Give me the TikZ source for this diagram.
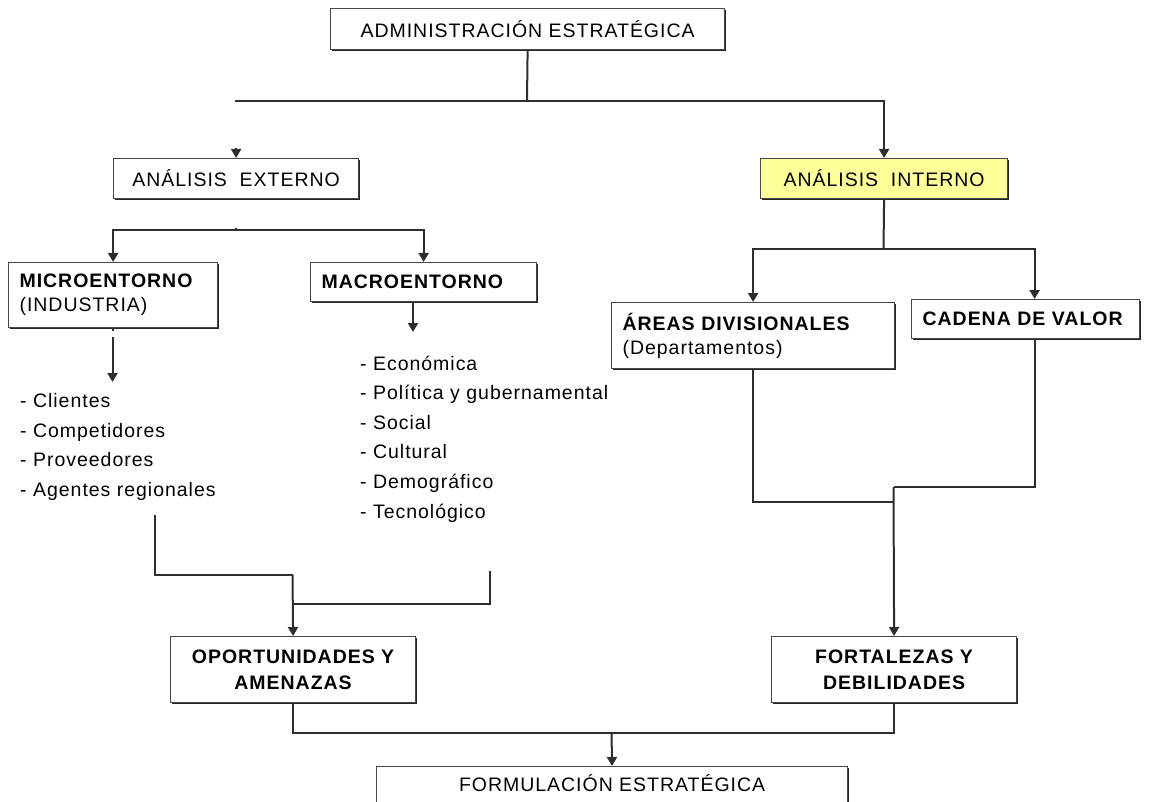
\documentclass[tikz,border=0pt]{standalone}
\usepackage{fontspec}
\setmainfont{Liberation Sans}[LetterSpace=5]
\usetikzlibrary{arrows.meta,shadows}
\definecolor{paleyellow}{RGB}{255,255,153}

\begin{document}
\begin{tikzpicture}[x=1pt,y=-1pt,
  conn/.style={draw=black!82, line width=2pt},
  arr/.style={conn, -{Triangle[width=10pt,length=9pt]}},
  box/.style={draw=black!72, line width=1.2pt, fill=white,
    drop shadow={shadow xshift=1.5pt, shadow yshift=-1.5pt, opacity=1, fill=black!85},
    inner sep=0pt, anchor=north west, font=\fontsize{19.5}{24}\selectfont},
  lbox/.style={box, align=left, inner xsep=11pt},
  cbox/.style={box, align=center},
  list/.style={anchor=west, align=left, inner sep=0pt, font=\fontsize{19.5}{29.6}\selectfont},
]
\clip (0,0) rectangle (1161,802);
\fill[white] (0,0) rectangle (1161,802);

% boxes
\node[cbox, minimum width=394, minimum height=41] (admin) at (330,8) {ADMINISTRACIÓN ESTRATÉGICA};
\node[cbox, minimum width=245, minimum height=40] (ext) at (113,158) {ANÁLISIS~~EXTERNO};
\node[cbox, minimum width=247, minimum height=40, fill=paleyellow] (int) at (760,158) {ANÁLISIS~~INTERNO};

\node[lbox, text width=187, minimum height=65] (micro) at (8,262) {\textbf{MICROENTORNO}\\(INDUSTRIA)};
\node[lbox, text width=204, minimum height=39] (macro) at (310,262) {\textbf{MACROENTORNO}};
\node[lbox, text width=261, minimum height=66] (areas) at (611,302) {\textbf{ÁREAS DIVISIONALES}\\(Departamentos)};
\node[lbox, text width=206, minimum height=39] (cadena) at (911,299) {\textbf{CADENA DE VALOR}};

\node[cbox, minimum width=245, minimum height=66, font=\fontsize{19.5}{26}\selectfont\bfseries] (oport) at (170,636) {OPORTUNIDADES Y\\AMENAZAS};
\node[cbox, minimum width=245, minimum height=66, font=\fontsize{19.5}{26}\selectfont\bfseries] (fort) at (771,636) {FORTALEZAS Y\\DEBILIDADES};
\node[cbox, minimum width=471, minimum height=60] (form) at (376,766) {FORMULACIÓN ESTRATÉGICA\\[4pt]\phantom{X}};

% lists
\node[list] (lmicro) at (20,447) {- Clientes\\- Competidores\\- Proveedores\\- Agentes regionales};
\node[list] (lmacro) at (360,439) {- Económica\\- Política y gubernamental\\- Social\\- Cultural\\- Demográfico\\- Tecnológico};

% junction points
\coordinate (jA) at (527,101);
\coordinate (jAl) at (235,101);
\coordinate (extIn) at ([yshift=10pt]ext.north);
\coordinate (jB) at (235.5,230);
\coordinate (microOut) at (112.5,337);
\coordinate (microList) at (112.5,382);
\coordinate (macroList) at (413,332);
\coordinate (jC) at (883.5,249);
\coordinate (cadIn) at ([xshift=9pt]cadena.north);
\coordinate (cadOut) at ([xshift=9pt]cadena.south);
\coordinate (jD) at (893.5,487);
\coordinate (jE) at (893.5,502);
\coordinate (lmicroEnd) at (155,515);
\coordinate (lmacroEnd) at (490,571);
\coordinate (jF) at (292.5,575);
\coordinate (jG) at (292.5,604);
\coordinate (jH) at (611.5,733);

% connectors: top level
\draw[conn] (admin.south) -- (jA);
\draw[arr] (jAl) -- (jA) -| (int.north);
\draw[arr] (extIn) -- (ext.north);

% external analysis
\draw[conn] (jB) -- ++(0,-2);
\draw[arr] (jB) -| (micro.north);
\draw[arr] (jB) -| (macro.north);
\draw[arr] (microOut) -- (microList);
\draw[conn] (micro.south) -- ++(0,3);
\draw[arr] (macro.south -| macroList) -- (macroList);
\draw[conn] (lmicroEnd) |- (jF);
\draw[arr] (jF) -- (oport.north);
\draw[conn] (lmacroEnd) |- (jG);

% internal analysis
\draw[conn] (int.south) -- (jC);
\draw[arr] (jC) -| (areas.north);
\draw[arr] (jC) -| (cadIn);
\draw[conn] (areas.south) |- (jE);
\draw[conn] (cadOut) |- (jD);
\draw[arr] (jD) -- (fort.north);

% synthesis
\draw[conn] (oport.south) |- (jH) -| (fort.south);
\draw[arr] (jH) -- (form.north);
\end{tikzpicture}
\end{document}
